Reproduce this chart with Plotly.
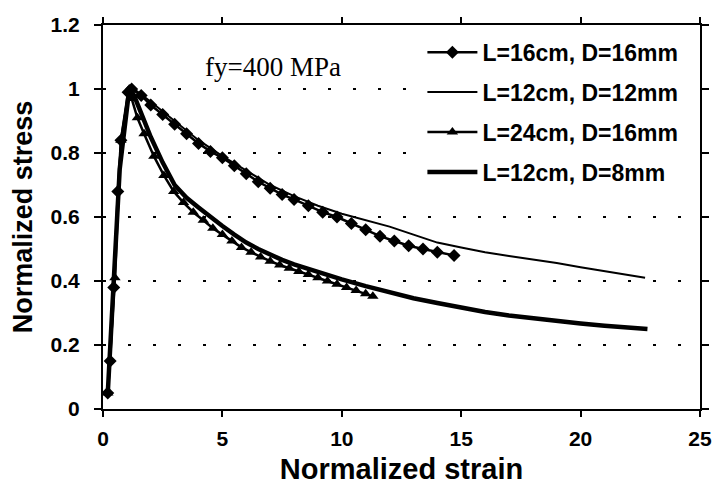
import plotly.graph_objects as go

# L=16cm, D=16mm (diamond markers)
strain_a = [0.2, 0.3, 0.45, 0.62, 0.75, 1.05, 1.2, 1.6, 2.0, 2.5, 3.0, 3.5, 4.0, 4.5,
            5.0, 5.5, 6.0, 6.5, 7.0, 7.5, 8.0, 8.6, 9.2, 9.8, 10.4, 11.0, 11.6, 12.2,
            12.8, 13.4, 14.0, 14.7]
stress_a = [0.05, 0.15, 0.38, 0.68, 0.84, 0.99, 1.0, 0.98, 0.95, 0.92, 0.89, 0.86, 0.83, 0.805,
            0.785, 0.76, 0.735, 0.71, 0.69, 0.67, 0.655, 0.635, 0.615, 0.60, 0.58, 0.56, 0.54, 0.525,
            0.51, 0.50, 0.49, 0.48]

# L=12cm, D=12mm (thin line)
strain_b = [0.2, 0.45, 0.7, 1.1, 1.3, 2.0, 3.0, 4.0, 5.0, 6.0, 7.0, 8.0, 9.0, 10.0, 11.0,
            12.0, 13.0, 14.0, 15.0, 16.0, 17.0, 18.0, 19.0, 20.0, 21.0, 22.0, 22.7]
stress_b = [0.05, 0.38, 0.75, 1.0, 1.0, 0.96, 0.90, 0.84, 0.79, 0.745, 0.70, 0.665, 0.635, 0.61, 0.59,
            0.57, 0.545, 0.52, 0.505, 0.49, 0.478, 0.468, 0.456, 0.443, 0.43, 0.417, 0.41]

# L=24cm, D=16mm (triangle markers)
strain_c = [0.2, 0.5, 0.75, 1.1, 1.2, 1.44, 1.72, 2.13, 2.55, 2.96, 3.37, 3.78, 4.2, 4.6, 5.0,
            5.4, 5.8, 6.2, 6.6, 7.0, 7.4, 7.8, 8.2, 8.6, 9.0, 9.4, 9.8, 10.2, 10.6, 11.0, 11.3]
stress_c = [0.05, 0.41, 0.84, 1.0, 0.97, 0.91, 0.86, 0.79, 0.73, 0.68, 0.645, 0.615, 0.59, 0.565, 0.545,
            0.525, 0.505, 0.49, 0.475, 0.462, 0.45, 0.44, 0.43, 0.42, 0.41, 0.40, 0.39, 0.38,
            0.37, 0.36, 0.352]

# L=12cm, D=8mm (thick line)
strain_d = [0.2, 0.45, 0.7, 1.1, 1.3, 2.0, 2.5, 3.0, 3.5, 4.0, 4.5, 5.0, 5.5, 6.0, 6.5, 7.0, 7.5,
            8.0, 9.0, 10.0, 11.0, 12.0, 13.0, 14.0, 15.0, 16.0, 17.0, 18.0, 19.0, 20.0, 21.0,
            22.0, 22.8]
stress_d = [0.05, 0.38, 0.75, 1.0, 0.98, 0.85, 0.77, 0.70, 0.66, 0.63, 0.60, 0.572, 0.545, 0.52, 0.50,
            0.482, 0.466, 0.452, 0.428, 0.405, 0.384, 0.364, 0.346, 0.331, 0.316, 0.303, 0.292, 0.283,
            0.275, 0.267, 0.26, 0.253, 0.25]

x_ticks = [0, 5, 10, 15, 20, 25]
x_tick_labels = ["<b>0</b>", "<b>5</b>", "<b>10</b>", "<b>15</b>", "<b>20</b>", "<b>25</b>"]
y_ticks = [0, 0.2, 0.4, 0.6, 0.8, 1.0, 1.2]
y_tick_labels = ["<b>0</b>", "<b>0.2</b>", "<b>0.4</b>", "<b>0.6</b>", "<b>0.8</b>", "<b>1</b>", "<b>1.2</b>"]

BLACK = "#000000"
sans = "Liberation Sans, Arial, sans-serif"

fig = go.Figure()
fig.add_trace(go.Scatter(x=strain_a, y=stress_a, name="L=16cm, D=16mm", mode="lines+markers",
                         line=dict(color=BLACK, width=2.5),
                         marker=dict(symbol="diamond", size=10, color=BLACK),
                         legendgroup="a"))
fig.add_trace(go.Scatter(x=strain_b, y=stress_b, name="L=12cm, D=12mm", mode="lines",
                         line=dict(color=BLACK, width=2), legendgroup="b"))
fig.add_trace(go.Scatter(x=strain_c, y=stress_c, name="L=24cm, D=16mm", mode="lines+markers",
                         line=dict(color=BLACK, width=2.5),
                         marker=dict(symbol="triangle-up", size=10, color=BLACK),
                         legendgroup="c"))
fig.add_trace(go.Scatter(x=strain_d, y=stress_d, name="L=12cm, D=8mm", mode="lines",
                         line=dict(color=BLACK, width=4.5), legendgroup="d"))

fig.add_annotation(x=7.1, y=1.07, xref="x", yref="y", text="fy=400 MPa", showarrow=False,
                   font=dict(family="Liberation Serif, Times New Roman, serif", size=27, color=BLACK))

fig.update_layout(
    width=723, height=491,
    margin=dict(l=103, r=11, t=25, b=82),
    paper_bgcolor="white", plot_bgcolor="white",
    font=dict(family=sans, color=BLACK),
    legend=dict(x=0.535, y=0.985, xanchor="left", yanchor="top",
                font=dict(family=sans, size=23, color=BLACK, weight=700),
                bgcolor="white", traceorder="grouped", tracegroupgap=7,
                itemwidth=50),
    xaxis=dict(range=[0, 25], tickvals=x_ticks, ticktext=x_tick_labels, showgrid=False,
               zeroline=False, showline=True, linecolor=BLACK, linewidth=2, mirror="ticks",
               ticks="outside", ticklen=6, tickwidth=2, tickcolor=BLACK,
               tickfont=dict(family=sans, size=21), ticklabelstandoff=4,
               title=dict(text="<b>Normalized strain</b>", font=dict(family=sans, size=29),
                          standoff=9)),
    yaxis=dict(range=[0, 1.2], tickvals=y_ticks, ticktext=y_tick_labels,
               showgrid=True, gridcolor=BLACK, gridwidth=2, griddash="3px,22px",
               zeroline=False, showline=True, linecolor=BLACK, linewidth=2, mirror="ticks",
               ticks="outside", ticklen=7, tickwidth=2, tickcolor=BLACK,
               tickfont=dict(family=sans, size=21), ticklabelstandoff=10,
               title=dict(text="<b>Normalized stress</b>", font=dict(family=sans, size=27),
                          standoff=10)),
)

fig.write_html("out.html")
